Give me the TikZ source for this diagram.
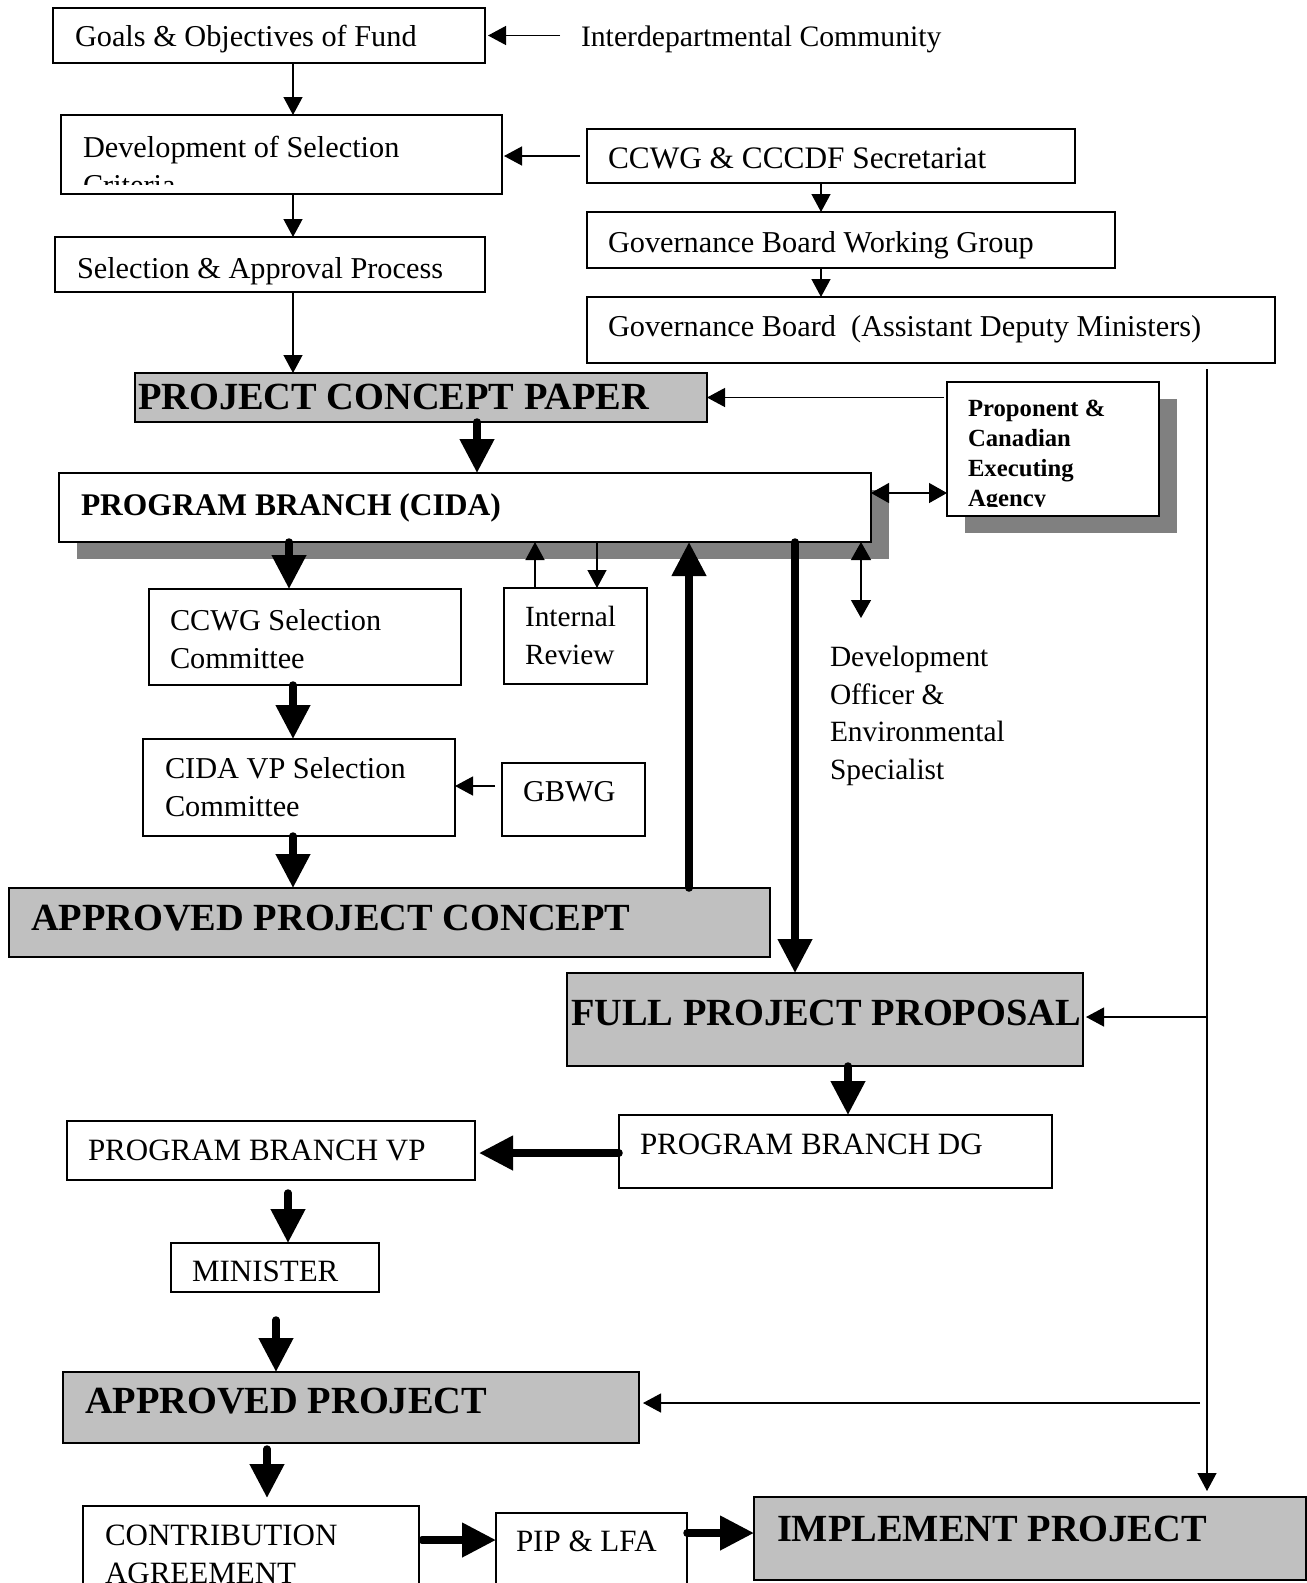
\documentclass[tikz,border=0pt]{standalone}
\usepackage{fontspec}
\setmainfont{Liberation Serif}
\usetikzlibrary{arrows.meta}
\definecolor{boxgray}{HTML}{C0C0C0}
\definecolor{shadowgray}{HTML}{808080}
\newcommand\dgReg{\fontsize{30.3}{38}\selectfont}
\newcommand\dgCap{\fontsize{31}{38}\selectfont}
\newcommand\dgBig{\fontsize{38.4}{46}\selectfont\bfseries}
\newcommand\dgPB{\fontsize{31.5}{38}\selectfont\bfseries}
\newcommand\dgProp{\fontsize{24.7}{30}\selectfont\bfseries}
\tikzset{
  box/.style={draw=black, line width=1.2pt, fill=white, inner sep=0pt, outer sep=0pt, anchor=north west},
  gbox/.style={box, fill=boxgray},
  shadowbox/.style={fill=shadowgray, draw=none, inner sep=0pt, outer sep=0pt, anchor=north west},
  txt/.style={inner sep=0pt, outer sep=0pt, anchor=base west, font=\dgReg},
  captxt/.style={txt, font=\dgCap},
  bigtxt/.style={txt, font=\dgBig},
  tarr/.style={line width=1.3pt, -{Triangle[length=18pt,width=19pt]}},
  darr/.style={line width=1.3pt, {Triangle[length=18pt,width=20pt]}-{Triangle[length=18pt,width=20pt]}},
  barr/.style={line width=7.5pt, line cap=round, -{Triangle[length=34pt,width=33pt]}},
}
\begin{document}
\begin{tikzpicture}[x=1pt, y=-1pt]
\clip (0,0) rectangle (1307,1583);
\fill[white] (0,0) rectangle (1307,1583);

% ---------- boxes ----------
\node[box, minimum width=432pt, minimum height=55pt] (goals) at (53,8) {};
\node[box, minimum width=441pt, minimum height=79pt] (dev) at (61,115) {};
\node[box, minimum width=430pt, minimum height=55pt] (sel) at (55,237) {};
\node[box, minimum width=488pt, minimum height=54pt] (ccwg) at (587,129) {};
\node[box, minimum width=528pt, minimum height=56pt] (gbwg) at (587,212) {};
\node[box, minimum width=688pt, minimum height=66pt] (gb) at (587,297) {};
\node[gbox, minimum width=572pt, minimum height=49pt] (pcp) at (135,373) {};
\node[shadowbox, minimum width=812pt, minimum height=69pt] (pbshadow) at (76.5,489.5) {};
\node[box, minimum width=812pt, minimum height=69pt] (pb) at (59,473) {};
\node[shadowbox, minimum width=212pt, minimum height=134pt] (propshadow) at (965,398.5) {};
\node[box, minimum width=212pt, minimum height=134pt] (prop) at (947,382) {};
\node[box, minimum width=312pt, minimum height=96pt] (ccwgsel) at (149,589) {};
\node[box, minimum width=143pt, minimum height=96pt] (ir) at (504,588) {};
\node[box, minimum width=312pt, minimum height=97pt] (cidavp) at (143,739) {};
\node[box, minimum width=143pt, minimum height=73pt] (gbwgs) at (502,763) {};
\node[gbox, minimum width=761pt, minimum height=69pt] (apc) at (9,888) {};
\node[gbox, minimum width=516pt, minimum height=93pt] (fpp) at (567,973) {};
\node[box, minimum width=433pt, minimum height=73pt] (pbdg) at (619,1115) {};
\node[box, minimum width=408pt, minimum height=59pt] (pbvp) at (67,1121) {};
\node[box, minimum width=208pt, minimum height=49pt] (minister) at (171,1243) {};
\node[gbox, minimum width=576pt, minimum height=71pt] (ap) at (63,1372) {};
\node[box, minimum width=336pt, minimum height=100pt] (ca) at (83,1506) {};
\node[box, minimum width=191pt, minimum height=100pt] (pip) at (496,1513) {};
\node[gbox, minimum width=552pt, minimum height=83pt] (impl) at (754,1497) {};

% ---------- texts ----------
\node[txt] (goalsT) at (75,46.5) {Goals \& Objectives of Fund};
\node[txt, font=\fontsize{29.7}{38}\selectfont] (interT) at (581,46.5) {Interdepartmental Community};
\begin{scope}
  \clip (dev.north west) rectangle ([yshift=10pt]dev.south east);
  \node[txt] (devT) at (83,157) {\begin{tabular}[t]{@{}l@{}}Development of Selection\\Criteria\end{tabular}};
\end{scope}
\node[txt] (selT) at (77,278.5) {Selection \& Approval Process};
\node[txt, font=\fontsize{31.3}{38}\selectfont] (ccwgT) at (608,168.5) {CCWG \& CCCDF Secretariat};
\node[txt] (gbwgT) at (608,252.5) {Governance Board Working Group};
\node[txt] (gbT) at (608,336.5) {Governance Board\ \ (Assistant Deputy Ministers)};
\node[bigtxt] (pcpT) at (138,409.5) {PROJECT CONCEPT PAPER};
\node[txt, font=\dgPB] (pbT) at (81,515) {PROGRAM BRANCH (CIDA)};
\begin{scope}
  \clip (prop.north west) rectangle ([yshift=10pt]prop.south east);
  \node[txt, font=\dgProp] (propT) at (968,416.7) {\begin{tabular}[t]{@{}l@{}}Proponent \&\\Canadian\\Executing\\Agency\end{tabular}};
\end{scope}
\node[txt] (ccwgselT) at (170,630) {\begin{tabular}[t]{@{}l@{}}CCWG Selection\\Committee\end{tabular}};
\node[txt, font=\fontsize{29.3}{38}\selectfont] (irT) at (525,626) {\begin{tabular}[t]{@{}l@{}}Internal\\Review\end{tabular}};
\node[txt] (cidavpT) at (165,778.5) {\begin{tabular}[t]{@{}l@{}}CIDA VP Selection\\Committee\end{tabular}};
\node[txt] (gbwgsT) at (523,801.5) {GBWG};
\node[bigtxt] (apcT) at (31,930) {APPROVED PROJECT CONCEPT};
\node[txt, font=\fontsize{29.4}{37.5}\selectfont] (devoffT) at (830,666.7) {\begin{tabular}[t]{@{}l@{}}Development\\Officer \&\\Environmental\\Specialist\end{tabular}};
\node[bigtxt] (fppT) at (571,1025) {FULL PROJECT PROPOSAL};
\node[captxt] (pbdgT) at (640,1154) {PROGRAM BRANCH DG};
\node[captxt] (pbvpT) at (88,1160) {PROGRAM BRANCH VP};
\node[captxt] (minT) at (192,1281.5) {MINISTER};
\node[bigtxt] (apT) at (85,1413.5) {APPROVED PROJECT};
\node[captxt] (caT) at (105,1545) {\begin{tabular}[t]{@{}l@{}}CONTRIBUTION\\AGREEMENT\end{tabular}};
\node[captxt] (pipT) at (516,1551.5) {PIP \& LFA};
\node[bigtxt] (implT) at (777,1541.5) {IMPLEMENT PROJECT};

% ---------- helper coordinates ----------
\coordinate (xL) at (293,0);
\coordinate (xG) at (821,0);
\coordinate (xP) at (477,0);
\coordinate (yD) at (0,493);
\coordinate (xC) at (289,0);
\coordinate (xI1) at (535,0);
\coordinate (xI2) at (597,0);
\coordinate (xU) at (689,0);
\coordinate (xDn) at (795,0);
\coordinate (devEnd) at (861,618);
\coordinate (xS) at (293,0);
\coordinate (yG) at (0,786);
\coordinate (vtop) at (1207,369);
\coordinate (yF) at (0,1017);
\coordinate (yA) at (0,1403);
\coordinate (xF) at (848,0);
\coordinate (yV) at (0,1153);
\coordinate (xM) at (288,0);
\coordinate (xA2) at (276,0);
\coordinate (xCA) at (267,0);
\coordinate (yCP) at (0,1540);
\coordinate (yPI) at (0,1533);

% ---------- connectors ----------
\draw[tarr, shorten <=21pt, shorten >=3pt] (interT.west |- goals.east) -- (goals.east);
\draw[tarr] (goals.south -| xL) -- (dev.north -| xL);
\draw[tarr] (dev.south -| xL) -- (sel.north -| xL);
\draw[tarr] (sel.south -| xL) -- (pcp.north -| xL);
\draw[tarr, shorten <=7pt, shorten >=2pt] (ccwg.west) -- (dev.east |- ccwg.west);
\draw[tarr] (ccwg.south -| xG) -- (gbwg.north -| xG);
\draw[tarr] (gbwg.south -| xG) -- (gb.north -| xG);
\draw[tarr, shorten <=3pt] (prop.west |- pcp.east) -- (pcp.east);
\draw[barr] (pcp.south -| xP) -- (pb.north -| xP);
\draw[darr] (pb.east |- yD) -- (prop.west |- yD);
\draw[barr] (pb.south -| xC) -- (ccwgsel.north -| xC);
\draw[tarr] (ir.north -| xI1) -- (pb.south -| xI1);
\draw[tarr] (pb.south -| xI2) -- (ir.north -| xI2);
\draw[barr] (apc.north -| xU) -- (pb.south -| xU);
\draw[barr] (pb.south -| xDn) -- (fpp.north -| xDn);
\draw[darr] (pb.south -| devEnd) -- (devEnd);
\draw[barr] (ccwgsel.south -| xS) -- (cidavp.north -| xS);
\draw[tarr, shorten <=7pt] (gbwgs.west |- yG) -- (cidavp.east |- yG);
\draw[barr] (cidavp.south -| xS) -- (apc.north -| xS);
\draw[tarr, shorten >=6pt] (vtop) -- (impl.north -| vtop);
\draw[tarr, shorten >=3pt] (vtop |- yF) -- (fpp.east |- yF);
\draw[tarr, shorten <=7pt, shorten >=4pt] (vtop |- yA) -- (ap.east |- yA);
\draw[barr] (fpp.south -| xF) -- (pbdg.north -| xF);
\draw[barr, shorten >=4pt] (pbdg.west |- yV) -- (pbvp.east |- yV);
\draw[barr, shorten <=13pt] (pbvp.south -| xM) -- (minister.north -| xM);
\draw[barr, shorten <=28pt] (minister.south -| xA2) -- (ap.north -| xA2);
\draw[barr, shorten <=6pt, shorten >=8pt] (ap.south -| xCA) -- (ca.north -| xCA);
\draw[barr, shorten <=3pt] (ca.east |- yCP) -- (pip.west |- yCP);
\draw[barr] (pip.east |- yPI) -- (impl.west |- yPI);
\end{tikzpicture}
\end{document}
